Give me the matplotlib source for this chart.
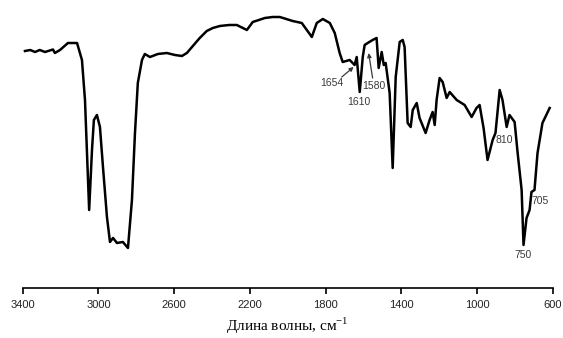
import numpy as np
import matplotlib
matplotlib.use('Agg')
import matplotlib.pyplot as plt

# IR spectrum (wavenumber, cm-1 / transmittance, arb. units)
wavenumber = [3388, 3360, 3335, 3310, 3282, 3240, 3230, 3203, 3161, 3113, 3087, 3071,
              3061, 3049, 3034, 3024, 3008, 2992, 2976, 2955, 2939, 2923, 2902, 2871,
              2844, 2823, 2807, 2792, 2770, 2755, 2728, 2686, 2639, 2596, 2559, 2533,
              2465, 2428, 2396, 2359, 2310, 2269, 2216, 2185, 2121, 2080, 2042, 1974,
              1926, 1873, 1847, 1815, 1778, 1752, 1726, 1710, 1673, 1647, 1636, 1620,
              1604, 1594, 1578, 1552, 1531, 1520, 1504, 1493, 1483, 1462, 1446, 1430,
              1409, 1393, 1383, 1367, 1351, 1340, 1319, 1304, 1272, 1251, 1235, 1224,
              1214, 1198, 1182, 1161, 1145, 1108, 1066, 1029, 1003, 987, 966, 945,
              918, 903, 881, 866, 844, 829, 802, 786, 765, 755, 739, 723,
              713, 697, 681, 655, 617]
transmittance = [237, 238, 236, 238, 236, 238.5, 235, 238, 245, 245, 228, 188,
                 138, 78, 138, 168, 173, 161, 121, 71, 46, 50, 45, 46,
                 40, 88, 155, 205, 228, 234, 231, 234, 235, 233, 232, 235,
                 250, 257, 260, 262, 263, 263, 258, 266, 270, 271, 271, 267,
                 265, 251, 265, 269, 265, 255, 235, 226, 228, 223, 231, 196,
                 231, 243, 245, 248, 250, 220, 236, 223, 225, 195, 120, 211,
                 246, 248, 241, 165, 161, 178, 185, 170, 155, 168, 176, 163,
                 188, 210, 206, 190, 196, 188, 183, 171, 180, 183, 160, 128,
                 148, 155, 198, 188, 161, 173, 166, 135, 98, 43, 70, 78,
                 96, 98, 135, 165, 180]

xticks = [3400, 3000, 2600, 2200, 1800, 1400, 1000, 600]

# peak labels: text, text position, arrow start / end (None = no arrow)
peak_labels = ['1654', '1610', '1580', '810', '705', '750']
label_pos = [(1768, 205), (1625, 186), (1546, 202), (855, 148), (665, 87), (755, 33)]
arrow_from = [(1715, 211), None, (1552, 210), None, None, None]
arrow_to = [(1652, 221), None, (1573, 235), None, None, None]

plt.rcParams['mathtext.fontset'] = 'custom'
plt.rcParams['mathtext.rm'] = 'Liberation Serif'

fig = plt.figure(figsize=(5.63, 3.38), dpi=100)
ax = fig.add_axes([0.0403, 0.148, 0.9417, 0.852])

ax.plot(wavenumber, transmittance, color='black', lw=1.8, solid_joinstyle='round')

for txt, pos, src, dst in zip(peak_labels, label_pos, arrow_from, arrow_to):
    ax.text(pos[0], pos[1], txt, fontsize=7.5, color='#3a3a3a',
            ha='center', va='center', family='Liberation Sans')
    if dst is not None:
        ax.annotate('', xy=dst, xytext=src,
                    arrowprops=dict(arrowstyle='-|>', color='#3a3a3a', lw=0.9,
                                    mutation_scale=6, shrinkA=0, shrinkB=0))

ax.set_xlim(3400, 600)
ax.set_ylim(0, 288)
ax.set_xticks(xticks)
ax.set_xticklabels([str(t) for t in xticks], fontsize=8, color='#222222',
                   family='Liberation Sans')
ax.set_yticks([])
for s in ['left', 'top', 'right']:
    ax.spines[s].set_visible(False)
ax.spines['bottom'].set_linewidth(1.2)
ax.tick_params(axis='x', direction='out', length=4, width=1.2, pad=5)
ax.set_xlabel('Длина волны, см$^{-1}$', fontsize=11, family='Liberation Serif', labelpad=4)

plt.savefig('out.png', dpi=100)
plt.close()
